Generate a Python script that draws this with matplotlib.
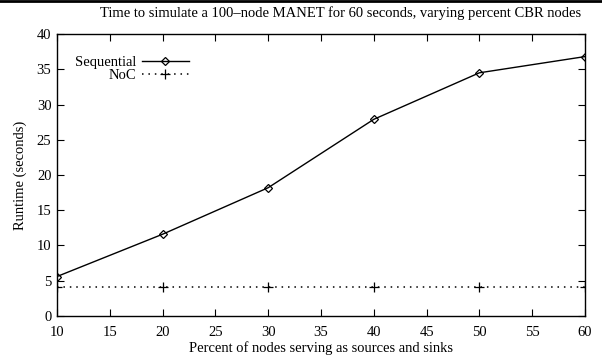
import numpy as np
import matplotlib
matplotlib.use('Agg')
import matplotlib.pyplot as plt
from matplotlib.lines import Line2D

plt.rcParams['font.family'] = ['Liberation Serif', 'DejaVu Serif']

## Data

percent = [10, 20, 30, 40, 50, 60]
sequential = [5.6, 11.6, 18.2, 27.9, 34.5, 36.8]
noc = [4.1, 4.1, 4.1, 4.1, 4.1, 4.1]

xticks = np.arange(10, 61, 5)
yticks = np.arange(0, 41, 5)

##

fig = plt.figure(figsize=(6.02, 3.56), dpi=100)
ax = fig.add_axes([0.0947, 0.1124, 0.877, 0.792])

ax.plot(percent, sequential, color='k', lw=1, marker='D', ms=4.5,
        mfc='none', mec='k', mew=0.9, label='Sequential')
ax.plot(percent, noc, color='k', lw=1.1, ls=(0, (1, 3.2)), marker='+',
        ms=7, mew=0.9, label='NoC')

ax.set_xlim(10, 60)
ax.set_ylim(0, 40)
ax.set_xticks(xticks)
ax.set_yticks(yticks)
ax.tick_params(direction='in', length=5, width=0.8, top=True, right=True,
               labelsize=10.5)
ax.tick_params(axis='x', pad=7)
ax.tick_params(axis='y', pad=4)
for s in ax.spines.values():
    s.set_linewidth(1)

ax.set_title('Time to simulate a 100\u2013node MANET for 60 seconds, varying percent CBR nodes',
             fontsize=10.5, pad=12, x=0.537)
ax.set_xlabel('Percent of nodes serving as sources and sinks', fontsize=10.5, labelpad=2)
ax.set_ylabel('Runtime (seconds)', fontsize=10.5, labelpad=7)

leg = ax.legend(loc='upper left', bbox_to_anchor=(0.02, 0.95), markerfirst=False,
                frameon=False, fontsize=10.5, handlelength=3.2, handletextpad=0.4,
                labelspacing=0.0, borderpad=0, numpoints=1)

# heavy rule along the top of the page
fig.add_artist(Line2D([0, 1], [0.997, 0.997], transform=fig.transFigure,
                      color='k', lw=2))

fig.savefig('out.png', dpi=100)
